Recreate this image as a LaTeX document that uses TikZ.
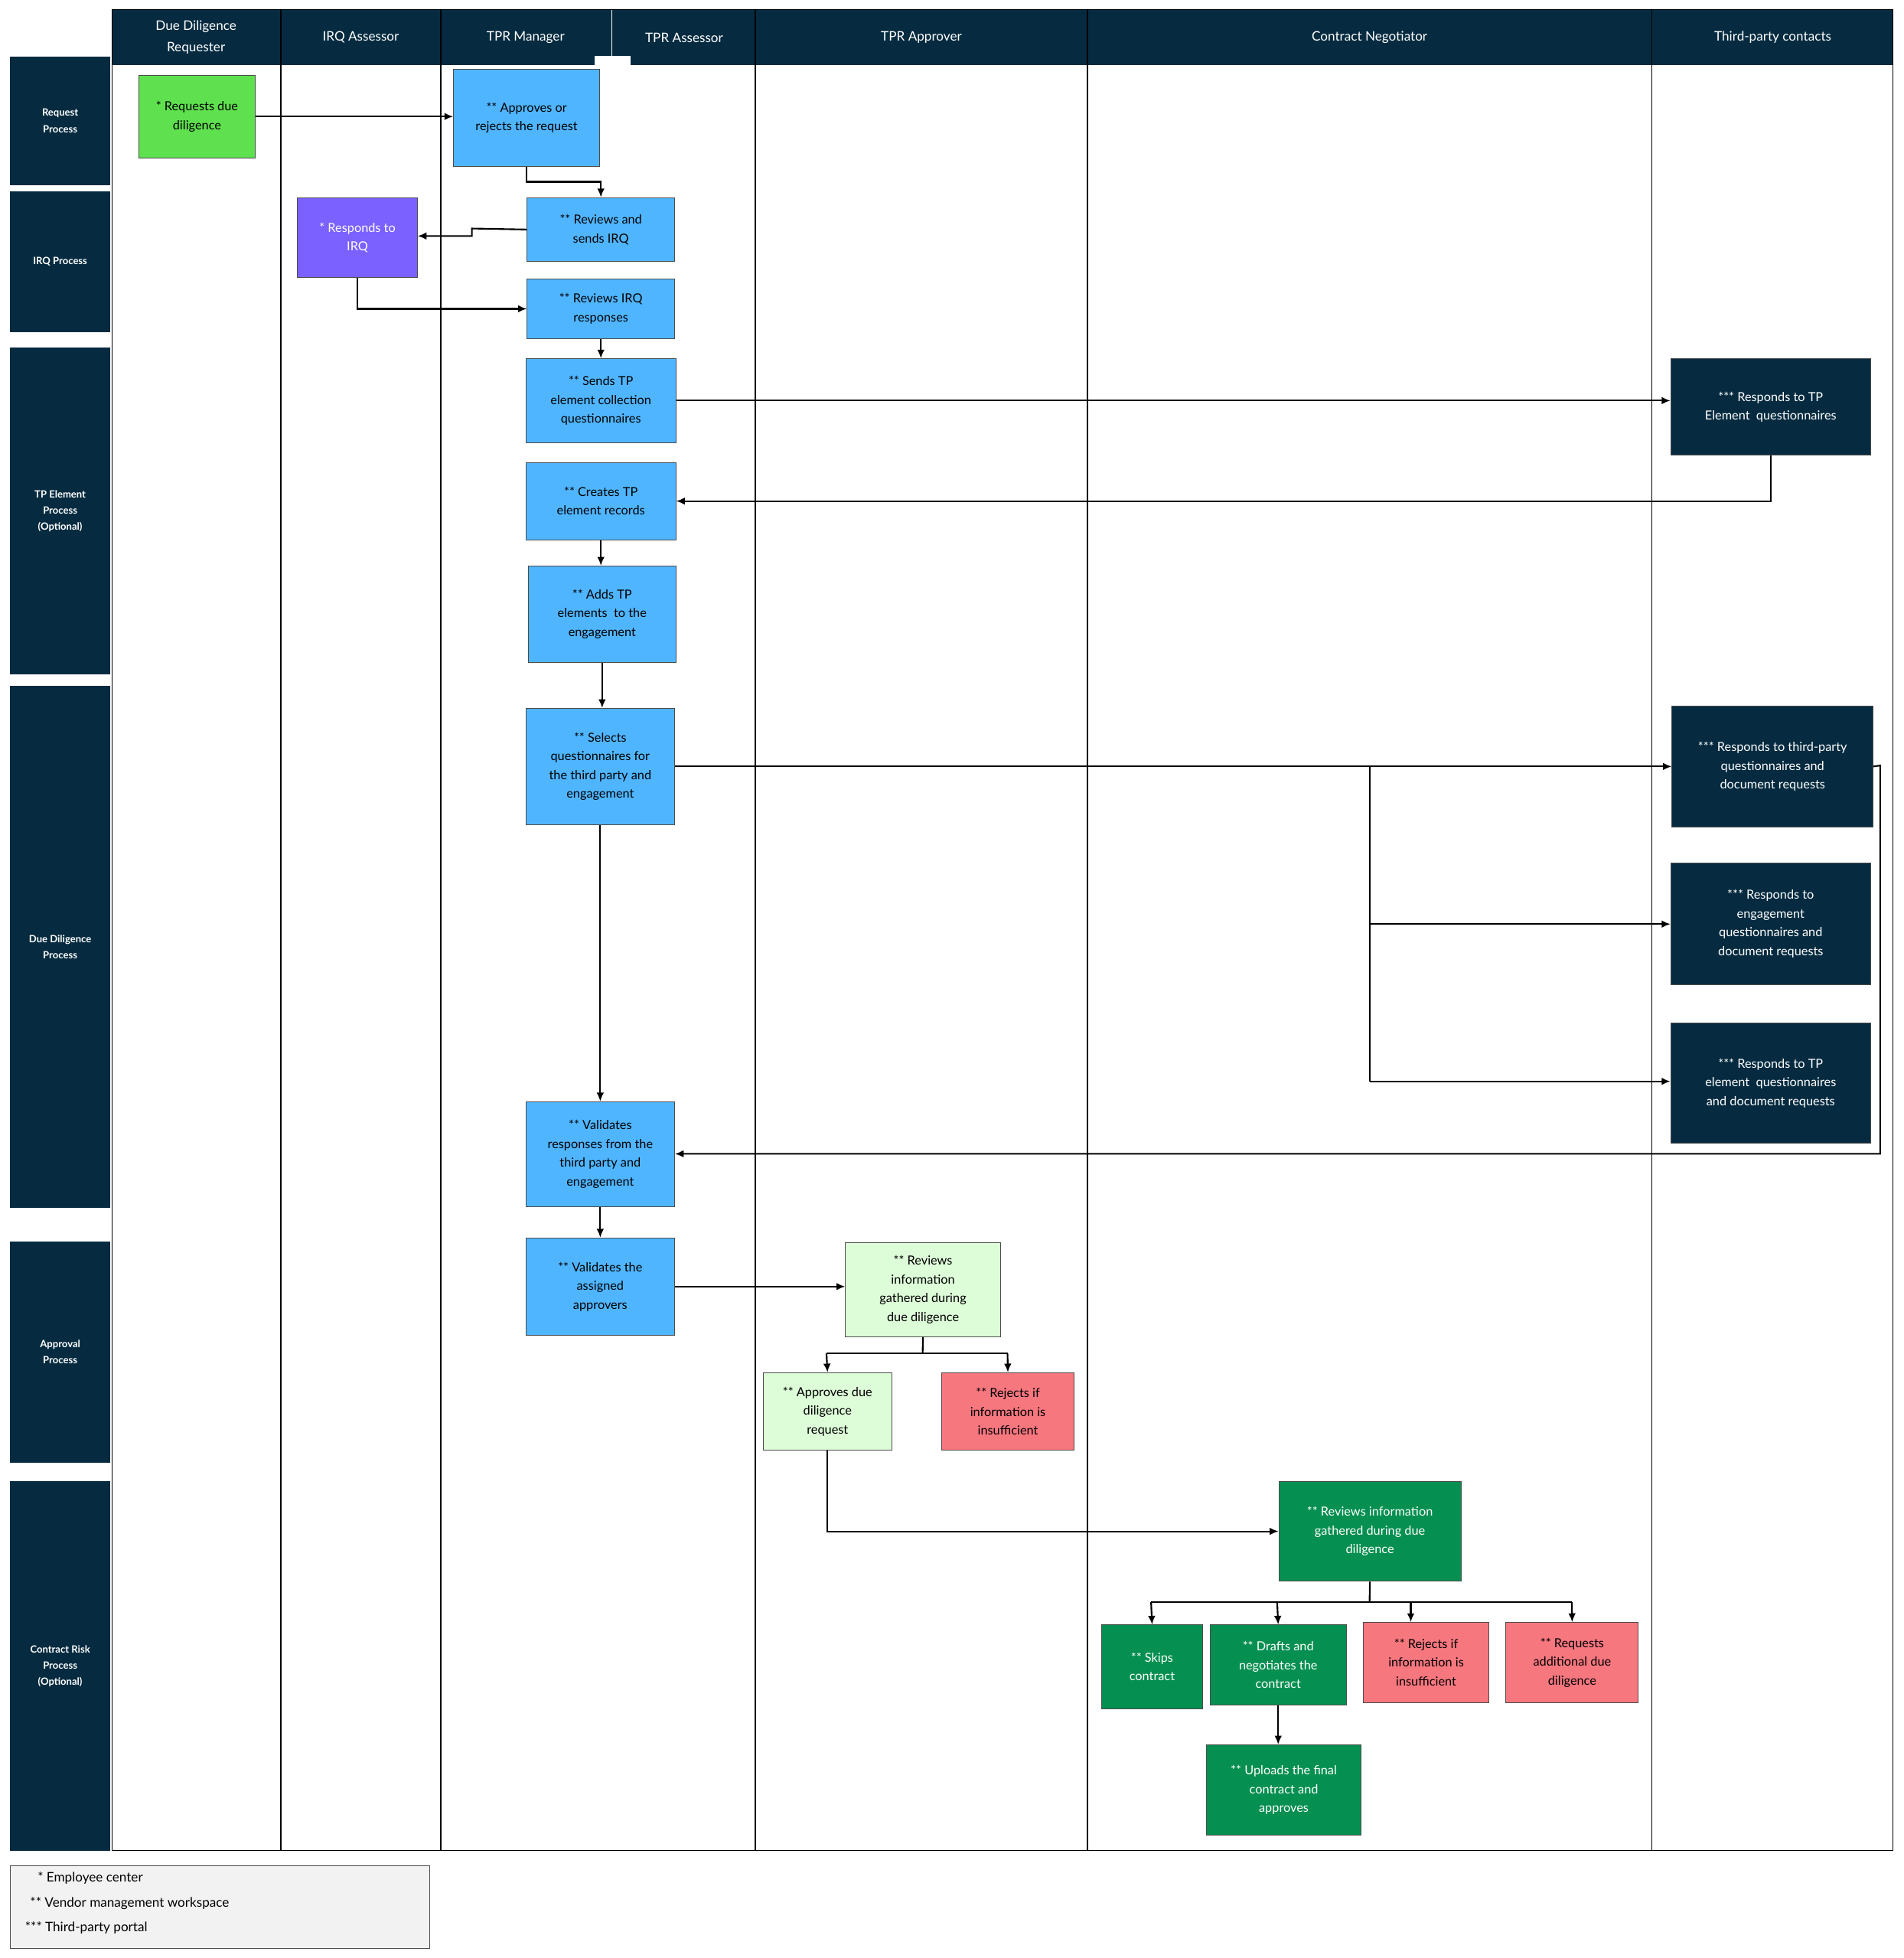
\documentclass[tikz,border=0pt]{standalone}
\usepackage{fontspec}
\setmainfont{Lato}
\usetikzlibrary{arrows.meta}
\definecolor{navy}{HTML}{062B40}
\definecolor{bl}{HTML}{50B5FF}
\definecolor{gr}{HTML}{5FE04F}
\definecolor{pu}{HTML}{7B61FF}
\definecolor{lg}{HTML}{DDFCD8}
\definecolor{pk}{HTML}{F7777F}
\definecolor{dg}{HTML}{058F50}
\begin{document}
\begin{tikzpicture}[x=1pt,y=-1pt,
 box/.style={draw=black!70,line width=0.6pt,anchor=north west,inner sep=0pt,align=center,font=\fontsize{10}{15}\selectfont},
 row/.style={fill=navy,anchor=north west,inner sep=0pt,minimum width=80pt,align=center,text=white,font=\fontsize{8}{13}\selectfont\bfseries},
 hd/.style={text=white,align=center,font=\fontsize{10.5}{17}\selectfont},
 ar/.style={-{Latex[length=7pt,width=6pt]},line width=1.3pt},
 ln/.style={line width=1.3pt}]
\useasboundingbox (0,0) rectangle (1525,1568);
\fill[white] (0,0) rectangle (1525,1568);
% frame and header
\draw[line width=0.8pt] (90,8) rectangle (1516,1482);
\fill[navy] (90,8) rectangle (1516,52);
\foreach \x in {225,353,605,871,1323} \draw[line width=0.8pt] (\x,8) -- (\x,1482);
\draw[white,line width=0.8pt] (490,8) -- (490,52);
\fill[white] (476,45) rectangle (505,52);
\node[hd] (h1) at (157,30) {Due Diligence\\Requester};
\node[hd] (h2) at (289,30) {IRQ Assessor};
\node[hd] (h3) at (421,30) {TPR Manager};
\node[hd] (h4) at (548,30) {TPR Assessor};
\node[hd] (h5) at (738,30) {TPR Approver};
\node[hd] (h6) at (1097,30) {Contract Negotiator};
\node[hd] (h7) at (1420,30) {Third-party contacts};
% row labels
\node[row,minimum height=103pt] (r1) at (8,45) {Request\\Process};
\node[row,minimum height=113pt] (r2) at (8,153) {IRQ Process};
\node[row,minimum height=262pt] (r3) at (8,278) {TP Element\\Process\\(Optional)};
\node[row,minimum height=418pt] (r4) at (8,549) {Due Diligence\\Process};
\node[row,minimum height=177pt] (r5) at (8,994) {Approval\\Process};
\node[row,minimum height=296pt] (r6) at (8,1186) {Contract Risk\\Process\\(Optional)};
% nodes
\node[box,fill=gr,minimum width=93pt,minimum height=66pt] (req) at (111,60) {* Requests due\\diligence};
\node[box,fill=bl,minimum width=117pt,minimum height=78pt] (appr) at (363,55) {** Approves or\\rejects the request};
\node[box,fill=bl,minimum width=118pt,minimum height=51pt] (revirq) at (422,158) {** Reviews and\\sends IRQ};
\node[box,fill=pu,text=white,minimum width=96pt,minimum height=64pt] (resirq) at (238,158) {* Responds to\\IRQ};
\node[box,fill=bl,minimum width=118pt,minimum height=48pt] (revresp) at (422,223) {** Reviews IRQ\\responses};
\node[box,fill=bl,minimum width=120pt,minimum height=67pt] (sends) at (421,287) {** Sends TP\\element collection\\questionnaires};
\node[box,fill=bl,minimum width=120pt,minimum height=62pt] (creates) at (421,370) {** Creates TP\\element records};
\node[box,fill=bl,minimum width=118pt,minimum height=77pt] (adds) at (423,453) {** Adds TP\\elements\ \ to the\\engagement};
\node[box,fill=bl,minimum width=119pt,minimum height=93pt] (selects) at (421,567) {** Selects\\questionnaires for\\the third party and\\engagement};
\node[box,fill=bl,minimum width=119pt,minimum height=84pt] (valid) at (421,882) {** Validates\\responses from the\\third party and\\engagement};
\node[box,fill=bl,minimum width=119pt,minimum height=78pt] (valappr) at (421,991) {** Validates the\\assigned\\approvers};
\node[box,fill=lg,minimum width=124pt,minimum height=75pt] (reviews) at (677,995) {** Reviews\\information\\gathered during\\due diligence};
\node[box,fill=lg,minimum width=103pt,minimum height=62pt] (appdd) at (611,1099) {** Approves due\\diligence\\request};
\node[box,fill=pk,minimum width=106pt,minimum height=62pt] (rejdd) at (754,1099) {** Rejects if\\information is\\insufficient};
\node[box,fill=dg,text=white,minimum width=146pt,minimum height=80pt] (crrev) at (1024,1186) {** Reviews information\\gathered during due\\diligence};
\node[box,fill=dg,text=white,minimum width=81pt,minimum height=67pt] (skips) at (882,1301) {** Skips\\contract};
\node[box,fill=dg,text=white,minimum width=109pt,minimum height=64pt] (drafts) at (969,1301) {** Drafts and\\negotiates the\\contract};
\node[box,fill=pk,minimum width=100pt,minimum height=64pt] (rejcr) at (1092,1299) {** Rejects if\\information is\\insufficient};
\node[box,fill=pk,minimum width=106pt,minimum height=64pt] (reqadd) at (1206,1299) {** Requests\\additional due\\diligence};
\node[box,fill=dg,text=white,minimum width=124pt,minimum height=72pt] (uploads) at (966,1397) {** Uploads the final\\contract and\\approves};
\node[box,fill=navy,text=white,minimum width=160pt,minimum height=77pt] (tp1) at (1338,287) {*** Responds to TP\\Element\ \ questionnaires};
\node[box,fill=navy,text=white,minimum width=161pt,minimum height=97pt] (tp2) at (1339,565) {*** Responds to third-party\\questionnaires and\\document requests};
\node[box,fill=navy,text=white,minimum width=160pt,minimum height=97pt] (tp3) at (1338,691) {*** Responds to\\engagement\\questionnaires and\\document requests};
\node[box,fill=navy,text=white,minimum width=160pt,minimum height=96pt] (tp4) at (1338,819) {*** Responds to TP\\element\ \ questionnaires\\and document requests};
% legend
\node[draw=black!70,fill=black!5,anchor=north west,minimum width=336pt,minimum height=66pt,inner sep=0pt] (leg) at (8,1494) {};
\node[anchor=north west,align=left,inner sep=0pt,font=\fontsize{10.5}{20}\selectfont] (legt) at (20,1499) {\hspace*{10pt}* Employee center\\\hspace*{4pt}** Vendor management workspace\\*** Third-party portal};
% connectors
\draw[ar] (req.east) -- (appr.west|-req.east);
\draw[ar] (appr.south) -- ++(0,12) -| (revirq.north);
\draw[ar] (revirq.west) -- (378,183) -- (378,189) -- (resirq.east|-0,189);
\draw[ar] (resirq.south) |- (revresp.west);
\draw[ar] (revresp.south) -- (sends.north);
\draw[ar] (sends.east) -- (tp1.west|-sends.east);
\draw[ar] (tp1.south) |- (creates.east);
\draw[ar] (creates.south) -- (adds.north-|creates.south);
\draw[ar] (adds.south) -- (selects.north-|adds.south);
\draw[ar] (selects.south) -- (valid.north);
\draw[ar] (selects.east) -- (tp2.west|-selects.east);
\draw[ln] (1097,613) -- (1097,866);
\draw[ar] (1097,740) -- (tp3.west|-0,740);
\draw[ar] (1097,866) -- (tp4.west|-0,866);
\draw[ar] (tp2.east) -- (1506,613) -- (1506,924) -- (valid.east|-0,924);
\draw[ar] (valid.south) -- (valappr.north);
\draw[ar] (valappr.east) -- (reviews.west|-valappr.east);
\draw[ln] (reviews.south) -- (739,1084);
\draw[ln] (662,1084) -- (807,1084);
\draw[ar] (662,1084) -- (appdd.north);
\draw[ar] (807,1084) -- (rejdd.north);
\draw[ar] (appdd.south) |- (crrev.west);
\draw[ln] (crrev.south) -- (1097,1283);
\draw[ln] (922,1283) -- (1259,1283);
\draw[ar] (922,1283) -- (skips.north);
\draw[ar] (1023,1283) -- (drafts.north);
\draw[ar] (1130,1283) -- (1130,1299);
\draw[ar] (1259,1283) -- (reqadd.north);
\draw[ar] (drafts.south) -- (uploads.north-|drafts.south);
\end{tikzpicture}
\end{document}
